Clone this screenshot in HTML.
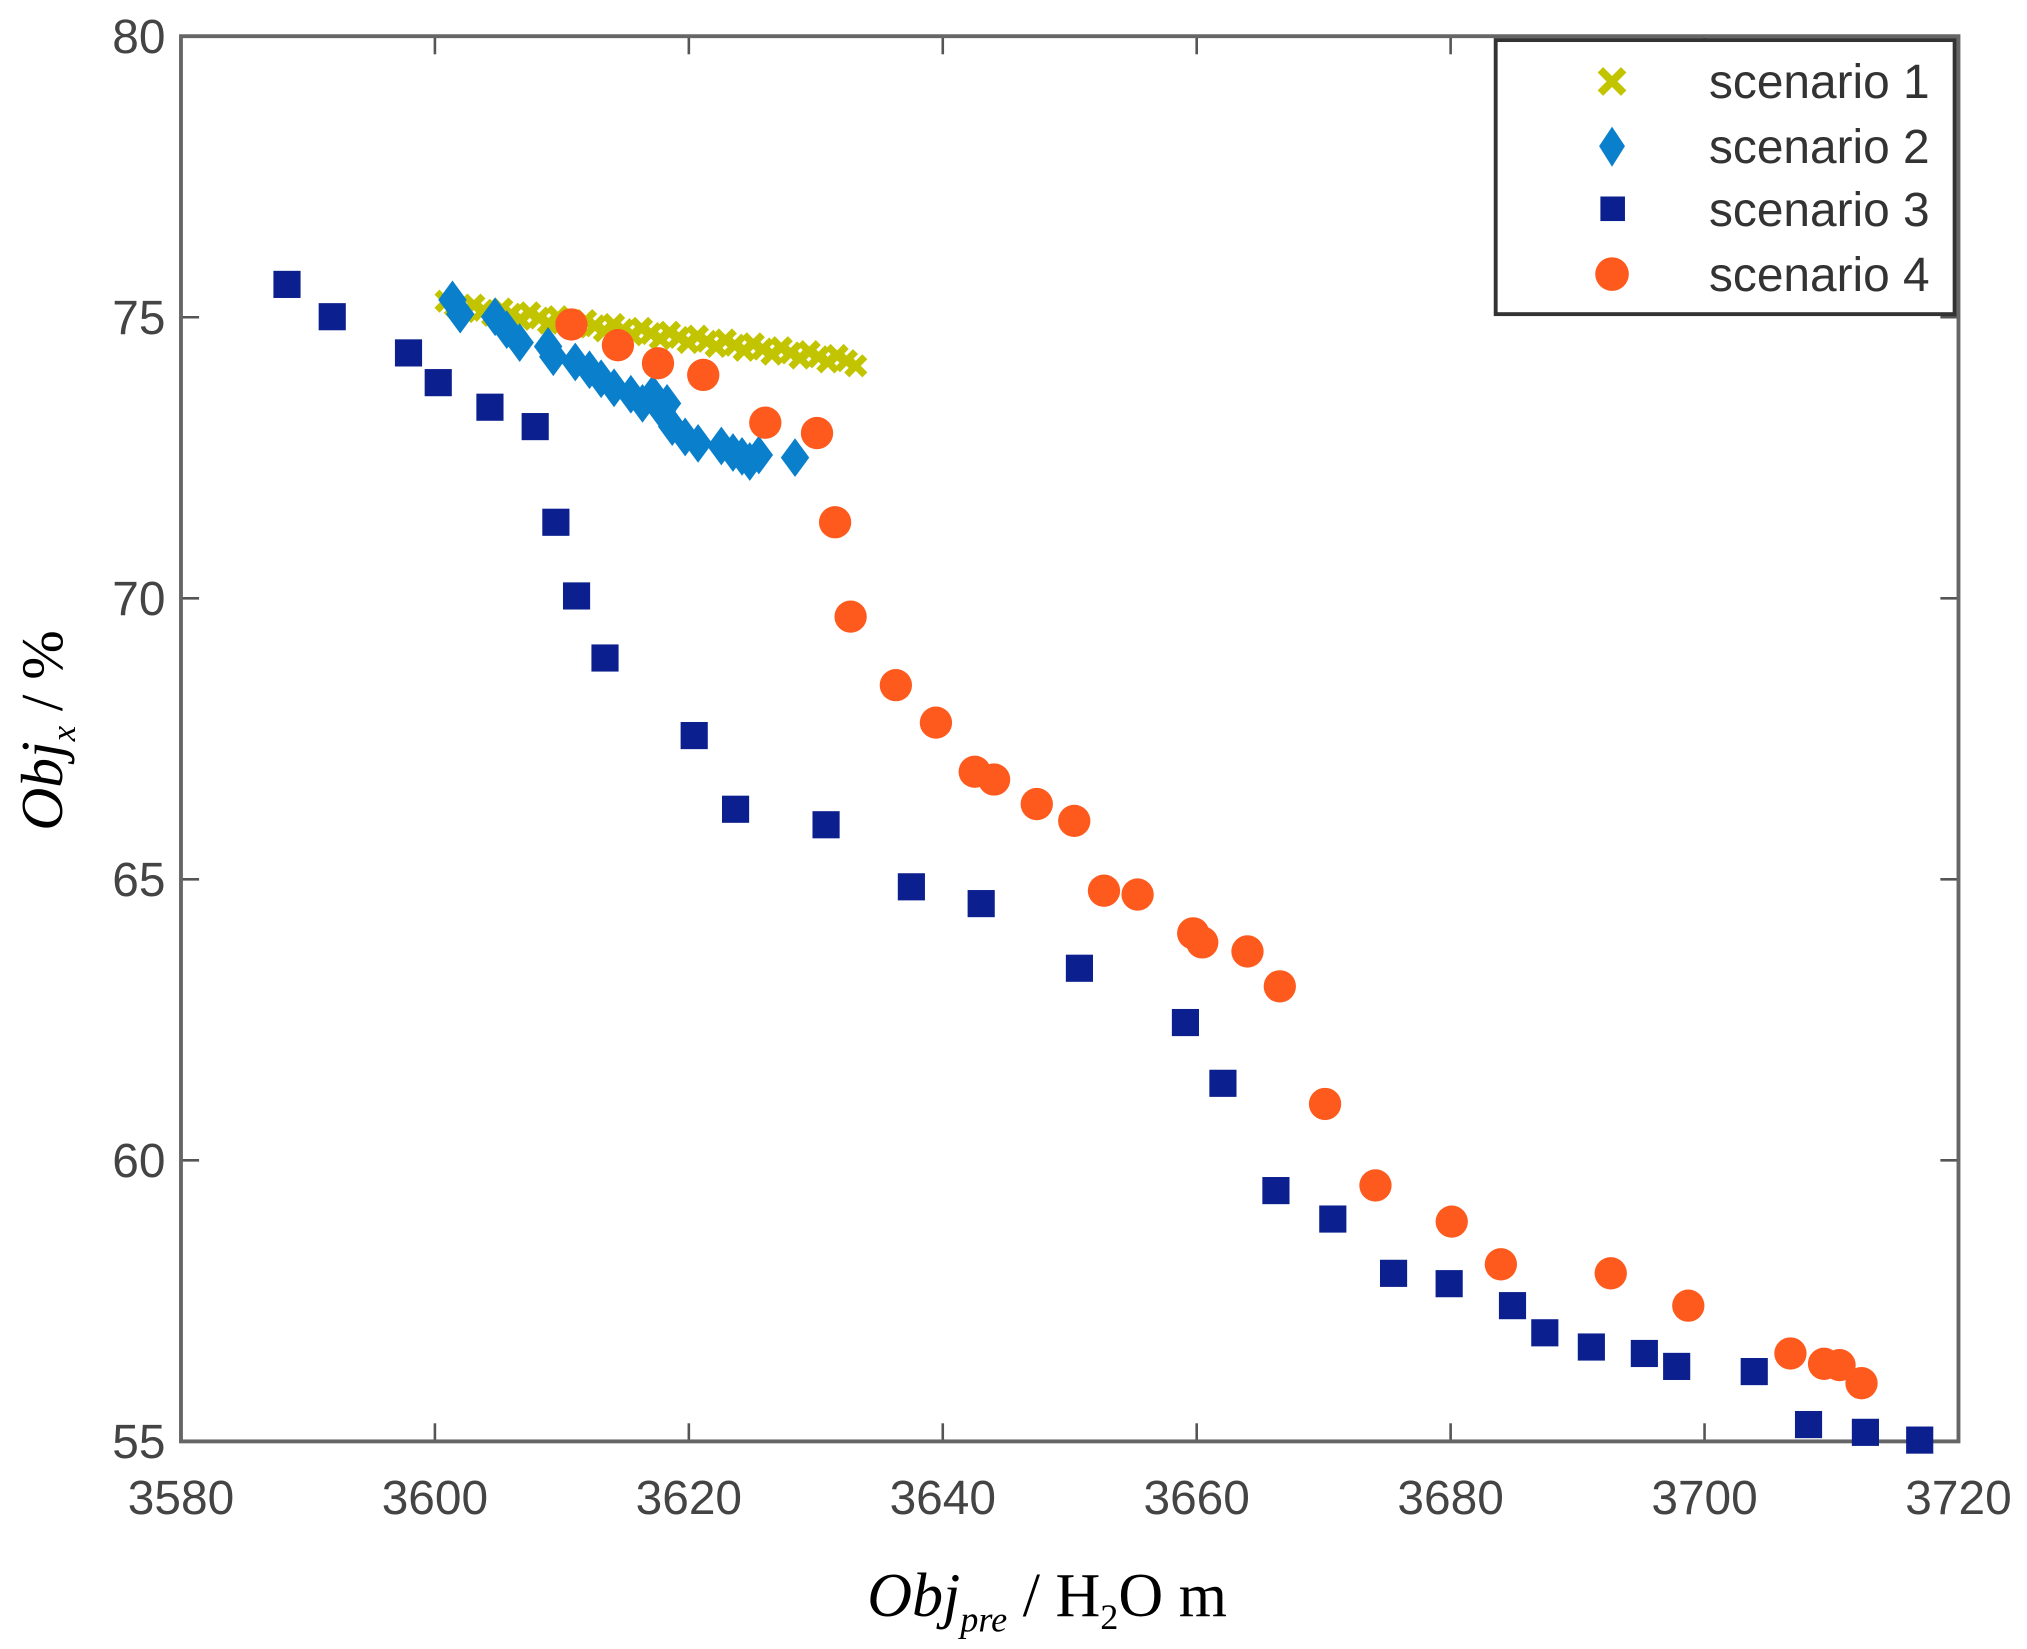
<!DOCTYPE html>
<html><head><meta charset="utf-8"><style>html,body{margin:0;padding:0;background:#fff}svg{display:block}</style></head>
<body>
<svg width="2027" height="1649" viewBox="0 0 1568 1275.6" preserveAspectRatio="none" xmlns="http://www.w3.org/2000/svg">
<rect x="0" y="0" width="1568" height="1276" fill="#fff"/>
<g id="ticks" stroke="#555" stroke-width="2"></g>
<rect x="140" y="28" width="1375" height="1087" fill="none" stroke="#666" stroke-width="3"/>
<g id="labels" font-family="Liberation Sans, sans-serif" font-size="37" fill="#444"></g>
<g id="s1" stroke="#c2c400" stroke-width="5.5"></g>
<g id="s2" fill="#0a80cc"></g>
<g id="s3" fill="#0b1f8e"></g>
<g id="s4" fill="#ff5a1e"></g>
<rect x="1157" y="31" width="355" height="212" fill="#fff" stroke="#333" stroke-width="3"/>
<g font-family="Liberation Sans, sans-serif" font-size="37" fill="#333">
<text x="1322" y="76">scenario 1</text>
<text x="1322" y="126">scenario 2</text>
<text x="1322" y="175">scenario 3</text>
<text x="1322" y="225">scenario 4</text>
</g>
<g stroke="#c2c400" stroke-width="6"><line x1="1238" y1="54" x2="1256" y2="72"/><line x1="1256" y1="54" x2="1238" y2="72"/></g>
<polygon points="1247,98 1257,113 1247,129 1237,113" fill="#0a80cc"/>
<rect x="1238" y="152" width="19" height="19" fill="#0b1f8e"/>
<circle cx="1247" cy="212" r="13" fill="#ff5a1e"/>
<text x="0" y="0" transform="translate(48,565) rotate(-90)" text-anchor="middle" font-family="Liberation Serif, serif" font-size="46" fill="#000"><tspan font-style="italic">Obj</tspan><tspan font-style="italic" font-size="27" dy="10">x</tspan><tspan dy="-10"> / %</tspan></text>
<text x="810" y="1250" text-anchor="middle" font-family="Liberation Serif, serif" font-size="48" fill="#000"><tspan font-style="italic">Obj</tspan><tspan font-style="italic" font-size="28" dy="12">pre</tspan><tspan dy="-12"> / H</tspan><tspan font-size="28" dy="10">2</tspan><tspan dy="-10">O m</tspan></text>
<script>
var NS="http://www.w3.org/2000/svg";
function el(p,t,a,txt){var e=document.createElementNS(NS,t);for(var k in a)e.setAttribute(k,a[k]);if(txt!=null)e.textContent=txt;document.getElementById(p).appendChild(e);}
for(var i=0;i<=7;i++){var x=140+1375*i/7;el('ticks','line',{x1:x,y1:1115,x2:x,y2:1101});el('ticks','line',{x1:x,y1:28,x2:x,y2:42});el('labels','text',{x:x,y:1171,'text-anchor':'middle'},String(3580+20*i));}
for(var j=0;j<=5;j++){var y=1115-1087*j/5;el('ticks','line',{x1:140,y1:y,x2:154,y2:y});el('ticks','line',{x1:1515,y1:y,x2:1501,y2:y});el('labels','text',{x:128,y:y+13,'text-anchor':'end'},String(55+5*j));}
var s3=[[222,220],[257,245],[316,273],[339,296],[379,315],[414,330],[430,404],[446,461],[468,509],[537,569],[569,626],[639,638],[705,686],[759,699],[835,749],[917,791],[946,838],[987,921],[1031,943],[1078,985],[1121,993],[1170,1010],[1195,1031],[1231,1042],[1272,1047],[1297,1057],[1357,1061],[1399,1102],[1443,1108],[1485,1114]];
s3.forEach(function(p){el('s3','rect',{x:p[0]-10.5,y:p[1]-10.5,width:21,height:21});});
var s1=[];for(var k=0;k<45;k++){var t=k/44;var x=345+317*t;var y=236+44*t+((k%3)-1)*3;s1.push([x,y]);}
s1.forEach(function(p){el('s1','line',{x1:p[0]-7,y1:p[1]-7,x2:p[0]+7,y2:p[1]+7});el('s1','line',{x1:p[0]+7,y1:p[1]-7,x2:p[0]-7,y2:p[1]+7});});
var s2=[[350,232],[356,243],[383,245],[392,255],[402,265],[424,268],[428,276],[445,280],[456,286],[465,293],[475,300],[488,305],[497,312],[505,305],[512,318],[516,312],[520,330],[530,338],[540,343],[558,345],[567,350],[574,353],[580,357],[587,352],[615,354]];
s2.forEach(function(p){el('s2','polygon',{points:(p[0])+','+(p[1]-15)+' '+(p[0]+11)+','+p[1]+' '+p[0]+','+(p[1]+15)+' '+(p[0]-11)+','+p[1]});});
var s4=[[442,251],[478,267],[509,281],[544,290],[592,327],[632,335],[646,404],[658,477],[693,530],[724,559],[754,597],[769,603],[802,622],[831,635],[854,689],[880,692],[923,722],[930,729],[965,736],[990,763],[1025,854],[1064,917],[1123,945],[1161,978],[1246,985],[1306,1010],[1385,1047],[1411,1055],[1423,1056],[1440,1070]];
s4.forEach(function(p){el('s4','circle',{cx:p[0],cy:p[1],r:12.5});});
</script>
</svg>
</body></html>
